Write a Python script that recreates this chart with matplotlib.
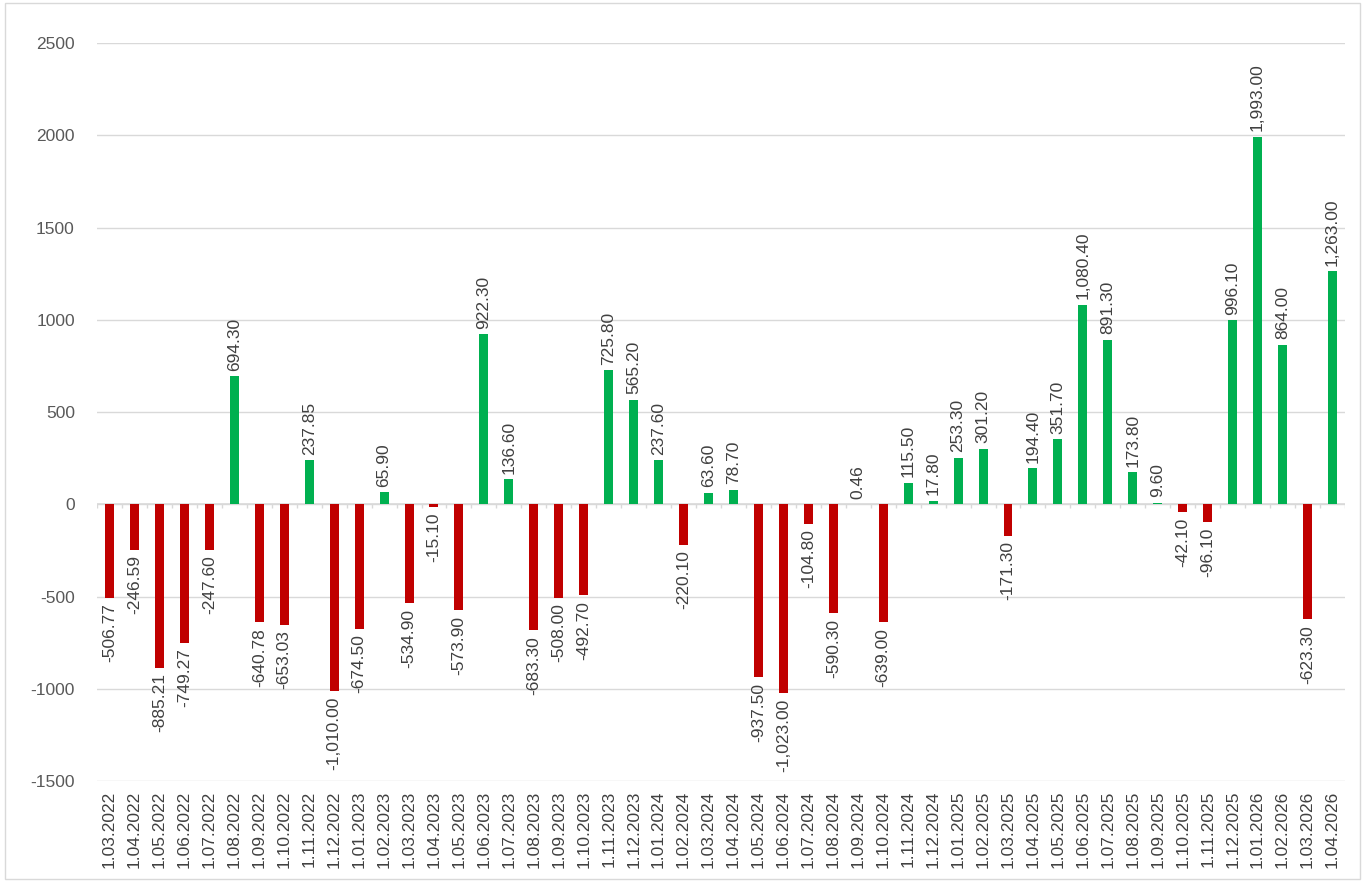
import matplotlib
matplotlib.use("Agg")
import matplotlib.pyplot as plt
from matplotlib.patches import Rectangle
import numpy as np

plt.rcParams['font.family'] = ['Liberation Sans', 'DejaVu Sans']

# monthly dates
months = [
    '1.03.2022', '1.04.2022', '1.05.2022', '1.06.2022', '1.07.2022', '1.08.2022',
    '1.09.2022', '1.10.2022', '1.11.2022', '1.12.2022',
    '1.01.2023', '1.02.2023', '1.03.2023', '1.04.2023', '1.05.2023', '1.06.2023',
    '1.07.2023', '1.08.2023', '1.09.2023', '1.10.2023', '1.11.2023', '1.12.2023',
    '1.01.2024', '1.02.2024', '1.03.2024', '1.04.2024', '1.05.2024', '1.06.2024',
    '1.07.2024', '1.08.2024', '1.09.2024', '1.10.2024', '1.11.2024', '1.12.2024',
    '1.01.2025', '1.02.2025', '1.03.2025', '1.04.2025', '1.05.2025', '1.06.2025',
    '1.07.2025', '1.08.2025', '1.09.2025', '1.10.2025', '1.11.2025', '1.12.2025',
    '1.01.2026', '1.02.2026', '1.03.2026', '1.04.2026',
]

# monthly change values
values = [
    -506.77, -246.59, -885.21, -749.27, -247.60, 694.30,
    -640.78, -653.03, 237.85, -1010.00,
    -674.50, 65.90, -534.90, -15.10, -573.90, 922.30,
    136.60, -683.30, -508.00, -492.70, 725.80, 565.20,
    237.60, -220.10, 63.60, 78.70, -937.50, -1023.00,
    -104.80, -590.30, 0.46, -639.00, 115.50, 17.80,
    253.30, 301.20, -171.30, 194.40, 351.70, 1080.40,
    891.30, 173.80, 9.60, -42.10, -96.10, 996.10,
    1993.00, 864.00, -623.30, 1263.00,
]

yticks = [-1500, -1000, -500, 0, 500, 1000, 1500, 2000, 2500]

RED = '#C00000'
GREEN = '#00B050'
GRID = '#d9d9d9'
TXT = '#404040'

fig = plt.figure(figsize=(13.65, 8.82), dpi=100)
ax = fig.add_axes([0.0711, 0.1145, 0.9142, 0.8367])

# outer frame
fig.patches.append(Rectangle((0.004, 0.003), 0.992, 0.994, transform=fig.transFigure,
                             fill=False, edgecolor=GRID, linewidth=1))

x = np.arange(len(values))
colors = [GREEN if v >= 0 else RED for v in values]
ax.bar(x, values, width=0.36, color=colors, zorder=3)

# data labels
for xi, v in zip(x, values):
    txt = f"{v:,.2f}"
    if v >= 0:
        ax.annotate(txt, (xi, v), xytext=(0, 4), textcoords='offset points',
                    rotation=90, ha='center', va='bottom', fontsize=12.5, color=TXT)
    else:
        ax.annotate(txt, (xi, v), xytext=(0, -4), textcoords='offset points',
                    rotation=90, ha='center', va='top', fontsize=12.5, color=TXT)

ax.set_xlim(-0.5, len(values) - 0.5)
ax.set_ylim(-1500, 2500)
ax.set_yticks(yticks)
ax.set_yticklabels([str(t) for t in yticks])
ax.grid(axis='y', color=GRID, linewidth=1, zorder=0)

# zero line with category tick marks
ax.axhline(0, color=GRID, linewidth=1.2, zorder=2)
bounds = np.arange(len(values) + 1) - 0.5
ax.vlines(bounds, -22, 0, color=GRID, linewidth=1, zorder=2)

ax.set_xticks(x)
ax.set_xticklabels(months, rotation=90)
ax.tick_params(axis='x', length=0, pad=7, labelsize=12.5, labelcolor=TXT)
ax.tick_params(axis='y', length=0, pad=16, labelsize=12.5, labelcolor='#595959')

for s in ax.spines.values():
    s.set_visible(False)

fig.savefig('out.png', dpi=100)
